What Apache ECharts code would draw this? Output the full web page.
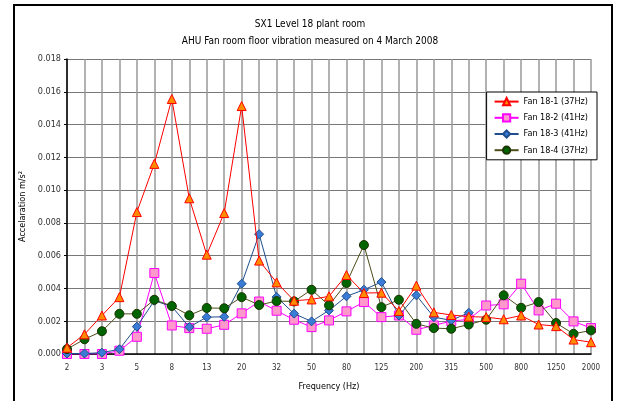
<!DOCTYPE html>
<html><head><meta charset="utf-8">
<script src="https://cdn.jsdelivr.net/npm/echarts@6/dist/echarts.min.js"></script>
<style>html,body{margin:0;padding:0;background:#fff}#c{width:618px;height:401px}</style>
</head><body><div id="c"></div>
<script>
const frequencies = [2,2.5,3.15,4,5,6.3,8,10,12.5,16,20,25,31.5,40,50,63,80,100,125,160,200,250,315,400,500,630,800,1000,1250,1600,2000];
const fan1 = [0.00038,0.0012,0.00235,0.00347,0.00866,0.0116,0.01556,0.0095,0.00606,0.0086,0.01513,0.0057,0.00437,0.00325,0.00333,0.00352,0.00482,0.00372,0.00374,0.00262,0.00417,0.00254,0.00238,0.00228,0.00225,0.00212,0.00235,0.0018,0.0017,0.00088,0.00072];
const fan2 = [0.0,0.0,0.0,0.0002,0.00105,0.00494,0.00174,0.00158,0.00154,0.00178,0.00248,0.0032,0.00264,0.00209,0.00164,0.00205,0.0026,0.00317,0.00225,0.00235,0.00148,0.00174,0.00201,0.00211,0.00296,0.00303,0.00429,0.00266,0.00307,0.00199,0.00158];
const fan3 = [0.00003,0.00003,0.00008,0.00029,0.00167,0.00325,0.0029,0.00164,0.00225,0.00227,0.00429,0.00731,0.00348,0.00246,0.00199,0.00266,0.00352,0.00392,0.00439,0.00235,0.00358,0.00225,0.00205,0.00252,null,null,null,null,null,null,null];
const fan4 = [0.0003,0.0009,0.00139,0.00245,0.00245,0.00331,0.00293,0.00236,0.00281,0.00279,0.00347,0.00299,0.00323,0.00321,0.00392,0.00297,0.00433,0.00665,0.00286,0.00331,0.00184,0.00158,0.00154,0.0018,0.00209,0.00358,0.00282,0.00317,0.00189,0.00123,0.00144];
const seriesNames = ['Fan 18-1 (37Hz)','Fan 18-2 (41Hz)','Fan 18-3 (41Hz)','Fan 18-4 (37Hz)'];
const titleLines = ['SX1 Level 18 plant room','AHU Fan room floor vibration measured on 4 March 2008'];
const xName = 'Frequency (Hz)';
const yName = 'Accelaration m/s²';

const FONT = '"Liberation Sans Narrow","DejaVu Sans Condensed","Liberation Sans",sans-serif';
const chart = echarts.init(document.getElementById('c'), null, {renderer:'canvas'});
chart.setOption({
  animation:false,
  backgroundColor:'#fff',
  textStyle:{fontFamily:FONT},
  graphic:[
    {type:'rect', shape:{x:14,y:5,width:598,height:420}, style:{fill:'none',stroke:'#000',lineWidth:2}, z:-1},
    {type:'text', x:310, y:19, style:{text:titleLines[0], font:'10px '+FONT, fill:'#000', align:'center'}},
    {type:'text', x:310, y:36, style:{text:titleLines[1], font:'10px '+FONT, fill:'#000', align:'center'}}
  ],
  legend:{
    orient:'vertical', right:21, top:92, itemGap:7, itemWidth:24, itemHeight:9,
    backgroundColor:'#fff', borderColor:'#000', borderWidth:1, padding:[5,9,5,7],
    textStyle:{fontSize:9, color:'#000', fontFamily:FONT},
    data:seriesNames
  },
  grid:{left:67, right:27, top:59, bottom:47, containLabel:false},
  xAxis:{
    type:'category', data:frequencies, boundaryGap:false,
    name:xName, nameLocation:'middle', nameGap:28,
    nameTextStyle:{fontSize:9, color:'#000', fontFamily:FONT},
    axisLine:{lineStyle:{color:'#000', width:1.5}},
    axisTick:{show:false},
    axisLabel:{interval:1, fontSize:8, color:'#333', margin:10, formatter:v=>String(Math.round(+v))},
    splitLine:{show:true, interval:0, lineStyle:{color:'#999', width:1.5}}
  },
  yAxis:{
    type:'value', min:0, max:0.018, interval:0.002,
    name:yName, nameLocation:'middle', nameGap:26, nameRotate:90,
    nameTextStyle:{fontSize:9, color:'#000', fontFamily:FONT},
    axisLine:{show:true, lineStyle:{color:'#000', width:1.5}},
    axisTick:{show:true, length:3, lineStyle:{color:'#000'}},
    axisLabel:{fontSize:9, color:'#333', margin:6, formatter:v=>v.toFixed(3)},
    splitLine:{show:true, lineStyle:{color:'#777', width:1}}
  },
  series:[
    {name:seriesNames[0], type:'line', data:fan1, symbol:'triangle', symbolSize:9,
     lineStyle:{color:'#ff0000', width:1}, itemStyle:{color:'#ff8c00', borderColor:'#ff0000', borderWidth:1}, z:5},
    {name:seriesNames[1], type:'line', data:fan2, symbol:'rect', symbolSize:9,
     lineStyle:{color:'#ff00ff', width:1}, itemStyle:{color:'#ff99cc', borderColor:'#ff00ff', borderWidth:1}, z:3},
    {name:seriesNames[2], type:'line', data:fan3, symbol:'diamond', symbolSize:9,
     lineStyle:{color:'#1f4e8c', width:1}, itemStyle:{color:'#3a7bd5', borderColor:'#1f4e8c', borderWidth:1}, z:4},
    {name:seriesNames[3], type:'line', data:fan4, symbol:'circle', symbolSize:9,
     lineStyle:{color:'#4d4d1a', width:1}, itemStyle:{color:'#006400', borderColor:'#1a3300', borderWidth:1}, z:4}
  ]
});
</script></body></html>
